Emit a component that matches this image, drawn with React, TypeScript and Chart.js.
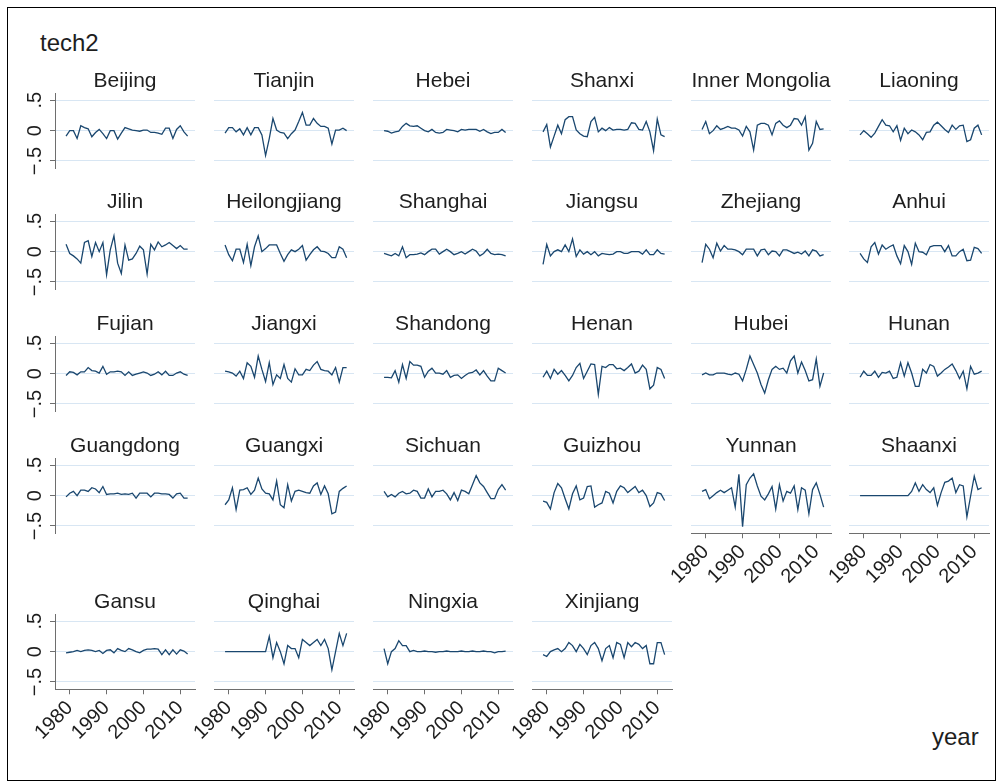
import React, { useEffect, useRef } from "react";
import { Chart, registerables } from "chart.js";
Chart.register(...registerables);

const years = [1979, 1980, 1981, 1982, 1983, 1984, 1985, 1986, 1987, 1988, 1989, 1990, 1991, 1992, 1993, 1994, 1995, 1996, 1997, 1998, 1999, 2000, 2001, 2002, 2003, 2004, 2005, 2006, 2007, 2008, 2009, 2010, 2011, 2012];
const xTicks = [1980, 1990, 2000, 2010];
const yTicks = [-0.5, 0, 0.5];
const yTickLabels = ["\u2212.5", "0", ".5"];

const beijing = [-0.09,0,0,-0.13,0.08,0.05,0.03,-0.1,-0.03,0.02,-0.05,-0.13,0,0,-0.14,-0.04,0.05,0.03,0.01,0,-0.01,0.01,0.01,-0.03,-0.03,-0.04,-0.06,0.04,0.04,-0.13,0.02,0.08,-0.02,-0.09];
const tianjin = [-0.04,0.05,0.05,-0.02,0.03,-0.07,0.05,-0.07,0.05,0.05,-0.07,-0.41,-0.13,0.2,0.01,-0.03,-0.04,-0.13,-0.05,0.01,0.15,0.3,0.09,0.09,0.2,0.12,0.07,0.07,0.04,-0.22,0.01,0.01,0.04,0.0];
const hebei = [0,-0.01,-0.04,-0.02,-0.01,0.07,0.12,0.08,0.07,0.08,0.04,0,-0.02,0.02,-0.03,-0.04,-0.03,0.02,0.01,0,-0.02,0.02,0.01,0.02,0.02,0.02,-0.01,0.02,-0.02,-0.05,-0.03,-0.03,0.02,-0.03];
const shanxi = [-0.02,0.1,-0.27,-0.09,0.09,-0.05,0.18,0.23,0.23,0.01,-0.05,-0.09,-0.1,0.15,0.22,-0.02,0.04,0,0.05,0.01,0.02,0.02,0.01,0.02,0.13,0.12,0.02,0.01,0.15,-0.02,-0.33,0.19,-0.07,-0.1];
const innerMongolia = [0.02,0.15,-0.05,0,0.08,0.02,0.04,0.07,0.04,0.04,0.01,-0.09,0.07,-0.02,-0.32,0.09,0.12,0.12,0.09,-0.07,0.12,0.16,0.09,0.05,0.09,0.2,0.19,0.09,0.23,-0.32,-0.21,0.15,0.02,0.03];
const liaoning = [-0.07,0,-0.05,-0.11,-0.04,0.07,0.18,0.09,0.08,-0.02,0.08,-0.16,0.04,-0.05,0.01,-0.02,-0.07,-0.15,-0.03,-0.02,0.09,0.14,0.08,0.02,-0.03,0.09,0.02,0.08,0.09,-0.18,-0.15,0.04,0.09,-0.07];
const jilin = [0.12,-0.03,-0.07,-0.12,-0.19,0.15,0.18,-0.08,0.15,0,0.15,-0.38,0.03,0.26,-0.19,-0.36,0.11,-0.14,-0.12,-0.03,0.09,0.03,-0.37,0.12,0.03,0.16,0.08,0.11,0.15,0.1,0.05,0.1,0.04,0.04];
const heilongjiang = [0.11,-0.05,-0.15,0.04,0.04,-0.18,0.12,-0.23,0.08,0.26,0,0.05,0.11,0.11,0.11,-0.03,-0.16,-0.05,0.03,0,0.04,0.1,-0.14,-0.05,0.03,0.08,0.01,0,-0.03,-0.1,-0.1,0.08,0.04,-0.1];
const shanghai = [-0.03,-0.05,-0.07,-0.03,-0.07,0.08,-0.1,-0.05,-0.05,-0.04,-0.02,-0.05,0,0.04,0.04,-0.04,0,0.04,0,-0.05,-0.03,0,-0.04,0,0.04,0.01,-0.07,-0.03,0.04,-0.03,-0.05,-0.04,-0.05,-0.07];
const jiangsu = [-0.21,0.12,-0.07,0,0.03,0,0.11,0,0.21,-0.08,0.03,-0.04,0,-0.05,0,-0.07,-0.03,-0.04,-0.05,-0.04,0,0,-0.03,-0.03,0,0,0,-0.04,0.03,-0.05,-0.05,0.03,-0.03,-0.04];
const zhejiang = [-0.18,0.12,0.04,-0.1,0.14,0.01,0.1,0.04,0.04,0.03,0,-0.05,0.04,0.04,0.04,-0.07,0.03,0.04,-0.05,0.01,0,-0.07,0.03,0.03,0,-0.03,-0.01,-0.04,0.01,-0.07,0.03,0.01,-0.07,-0.05];
const anhui = [-0.03,-0.12,-0.18,0.08,0.15,-0.04,0.11,0.04,0.08,0.11,-0.07,-0.2,0.1,0,-0.21,0.14,0,-0.01,-0.05,0.08,0.1,0.1,0.1,0,0.1,-0.07,-0.07,0,0.04,-0.15,-0.14,0.07,0.05,-0.03];
const fujian = [-0.03,0.03,0.02,-0.02,0.03,0.03,0.1,0.05,0.04,0.01,0.12,-0.01,0.03,0.03,0.04,0.03,-0.03,0.03,-0.03,-0.01,0.01,0.03,0.01,-0.03,-0.01,0.03,-0.02,0.04,-0.03,-0.03,0.01,0.03,-0.01,-0.03];
const jiangxi = [0.04,0.03,0.01,-0.04,0.04,-0.08,0.18,0.12,-0.06,0.29,0.07,-0.13,0.18,-0.18,-0.02,-0.08,0.15,-0.08,-0.14,0.08,-0.02,-0.02,0.07,0.05,0.14,0.2,0.07,0.05,0.04,-0.02,0.1,-0.14,0.1,0.1];
const shandong = [-0.06,-0.06,-0.07,0.05,-0.14,0.15,-0.08,0.2,0.14,0.14,0.12,-0.06,0.04,0.09,0.01,0.01,-0.01,0.05,-0.06,-0.03,-0.02,-0.08,-0.03,0.01,0.02,0.06,-0.02,0.05,-0.04,-0.12,-0.12,0.09,0.05,0.01];
const henan = [-0.06,0.04,-0.08,0.07,-0.01,0.05,-0.03,-0.12,-0.03,0.1,0.17,-0.08,0.04,0.16,0.15,-0.34,0.12,0.1,0.15,0.15,0.08,0.09,0.05,0.1,0.16,0.01,0.04,0.14,0.07,-0.25,-0.19,0.1,0.07,-0.08];
const hubei = [-0.02,0.01,-0.02,-0.02,0.01,0.01,0.01,-0.01,-0.02,0.01,-0.01,-0.12,0.07,0.29,0.15,0.01,-0.18,-0.32,-0.1,0.07,0.12,0.07,0.09,0.01,0.21,0.29,0.01,0.19,0.05,-0.12,-0.1,0.24,-0.21,0.01];
const hunan = [-0.06,0.04,-0.03,-0.03,0.04,-0.06,0.02,0.01,0.04,-0.08,-0.06,0.18,-0.04,0.18,0.01,-0.21,-0.21,0.07,0.01,0.15,0.12,-0.04,0.01,0.07,0.11,0.16,0.05,-0.08,0.04,-0.25,0.12,-0.01,0.01,0.04];
const guangdong = [-0.02,0.04,0.07,0,0.09,0.09,0.07,0.13,0.11,0.05,0.15,0.02,0.03,0.03,0.04,0.02,0.03,0.02,0.04,-0.04,0.04,0.04,0.04,-0.02,0.04,0.04,0.03,0.03,0.02,-0.04,0.03,0.04,-0.04,-0.04];
const guangxi = [-0.15,-0.07,0.13,-0.23,0.09,0.1,0.13,0.02,0.09,0.29,0.11,0.04,0.03,-0.07,0.24,-0.15,-0.2,0.18,-0.09,0.07,0.09,0.07,0.05,0.04,0.16,0.21,0.02,0.16,0.03,-0.3,-0.27,0.07,0.12,0.16];
const sichuan = [0.07,-0.02,0.02,-0.02,0.04,0.07,0.03,0.04,0.09,0.07,-0.04,-0.04,0.11,-0.02,0.07,0.07,0.09,0.03,-0.07,0.05,-0.08,0.09,0.07,0.03,0.18,0.33,0.21,0.15,0.05,-0.05,-0.05,0.1,0.18,0.09];
const guizhou = [-0.09,-0.11,-0.22,0.05,0.2,0.13,-0.05,-0.22,0.03,0.16,-0.07,-0.04,0.15,0.16,-0.19,-0.15,-0.12,0.07,0.04,-0.12,0.07,0.16,0.13,0.05,0.1,0.15,0.05,0.09,0,-0.18,-0.12,0.05,0.03,-0.08];
const yunnan = [0.07,0.1,-0.05,0,0.05,0.09,0.05,0.09,0.13,-0.19,0.35,-0.51,0.18,0.29,0.36,0.16,-0.01,-0.07,0.03,0.15,-0.22,0.18,-0.09,0.07,0.04,0.16,-0.23,0.13,0.09,-0.3,0.1,0.21,0.02,-0.19];
const shaanxi = [0,0,0,0,0,0,0,0,0,0,0,0,0,0,0.07,0.21,0.07,0.18,0.1,0.05,0.13,-0.16,0.05,0.22,0.24,0.29,0.05,0.18,0.16,-0.35,-0.01,0.32,0.1,0.13];
const gansu = [-0.02,-0.01,0,0.02,0,0.02,0.03,0.02,0,0.02,-0.03,0.02,0.03,-0.02,0.05,0.02,0,0.05,0.03,0,-0.02,0.02,0.04,0.04,0.05,0.04,-0.05,0.03,-0.05,0.03,-0.04,0.03,0.01,-0.04];
const qinghai = [0,0,0,0,0,0,0,0,0,0,0,0,0.25,-0.1,0.15,0,-0.2,0.1,0.05,0.05,-0.1,0.2,0.15,0.1,0.15,0.2,0.1,0.2,0.05,-0.3,0,0.3,0.1,0.3];
const ningxia = [0.05,-0.2,0,0.05,0.18,0.1,0.1,0,0.02,0,0,0.01,0,0,-0.01,0,0,0.01,0,0,0,0.01,0,0,0.01,0,0,0.01,0,0,-0.02,0,0,0.01];
const xinjiang = [-0.05,-0.08,0,0.03,0.05,0,0.05,0.15,0.1,0,0.12,0.05,-0.05,0.1,0.15,0.05,-0.15,0.05,0.1,-0.1,0.15,0.12,-0.1,0.15,0.08,0.15,0.12,0.05,0.1,-0.2,-0.2,0.15,0.15,-0.05];

const provinceNames = [
  "Beijing", "Tianjin", "Hebei", "Shanxi", "Inner Mongolia", "Liaoning",
  "Jilin", "Heilongjiang", "Shanghai", "Jiangsu", "Zhejiang", "Anhui",
  "Fujian", "Jiangxi", "Shandong", "Henan", "Hubei", "Hunan",
  "Guangdong", "Guangxi", "Sichuan", "Guizhou", "Yunnan", "Shaanxi",
  "Gansu", "Qinghai", "Ningxia", "Xinjiang",
];
const provinceSeries = [
  beijing, tianjin, hebei, shanxi, innerMongolia, liaoning,
  jilin, heilongjiang, shanghai, jiangsu, zhejiang, anhui,
  fujian, jiangxi, shandong, henan, hubei, hunan,
  guangdong, guangxi, sichuan, guizhou, yunnan, shaanxi,
  gansu, qinghai, ningxia, xinjiang,
];

const FONT = "'Liberation Sans', Arial, Helvetica, sans-serif";
const LINE_COLOR = "#1a476f";
const GRID_COLOR = "#d8e6f3";
const AXIS_COLOR = "#6e6e6e";
const TEXT_COLOR = "#1e1e1e";

// layout
const COL_X0 = 55.3;
const COL_PITCH = 158.8;
const ROW_ZERO = [130.7, 251.7, 374, 496, 651.5];
const PLOT_W = 140;
const Y_MIN = -0.62;
const Y_MAX = 0.62;
const PX_PER_UNIT = 60.7;
const PLOT_H = (Y_MAX - Y_MIN) * PX_PER_UNIT;
const AXIS_W = 55;
const RIGHT_PAD = 10;
const TOP_PAD = 40;
const XAXIS_H = 80;
const CANVAS_W = AXIS_W + PLOT_W + RIGHT_PAD;
const CANVAS_H = Math.ceil(TOP_PAD + PLOT_H + XAXIS_H);

const titlePlugin = {
  id: "panelTitle",
  afterDraw(chart: any, _args: any, opts: any) {
    const { ctx, chartArea } = chart;
    ctx.save();
    ctx.font = `21px ${FONT}`;
    ctx.fillStyle = TEXT_COLOR;
    ctx.textAlign = "center";
    ctx.textBaseline = "alphabetic";
    ctx.fillText(opts.text, (chartArea.left + chartArea.right) / 2, chartArea.top - 6.5);
    ctx.restore();
  },
};

function Panel(props: { name: string; values: number[]; col: number; row: number; showX: boolean; showY: boolean }) {
  const { name, values, col, row, showX, showY } = props;
  const ref = useRef<HTMLCanvasElement>(null);
  const plotLeft = COL_X0 + col * COL_PITCH;
  const plotTop = ROW_ZERO[row] - Y_MAX * PX_PER_UNIT;
  const left = plotLeft - AXIS_W;
  const top = plotTop - TOP_PAD;
  const bottomPad = CANVAS_H - TOP_PAD - PLOT_H;

  useEffect(() => {
    const chart = new Chart(ref.current as HTMLCanvasElement, {
      type: "line",
      data: {
        datasets: [
          {
            data: years.map((yr, i) => ({ x: yr, y: values[i] })),
            borderColor: LINE_COLOR,
            borderWidth: 1.3,
            pointRadius: 0,
            tension: 0,
            fill: false,
          },
        ],
      },
      options: {
        animation: false,
        responsive: false,
        devicePixelRatio: 1,
        events: [],
        layout: { padding: { top: TOP_PAD, left: 0, right: RIGHT_PAD, bottom: 0 } },
        plugins: {
          legend: { display: false },
          tooltip: { enabled: false },
          panelTitle: { text: name },
        } as any,
        scales: {
          x: {
            type: "linear",
            min: 1976,
            max: 2014,
            afterBuildTicks: (scale: any) => {
              scale.ticks = xTicks.map((v) => ({ value: v }));
            },
            afterFit: (scale: any) => {
              scale.height = bottomPad;
            },
            ticks: {
              display: showX,
              autoSkip: false,
              minRotation: 45,
              maxRotation: 45,
              padding: 2,
              color: TEXT_COLOR,
              font: { family: FONT, size: 20 },
              callback: (v: any) => String(v),
            },
            grid: {
              display: showX,
              drawOnChartArea: false,
              drawTicks: true,
              tickLength: 5,
              tickColor: AXIS_COLOR,
              color: AXIS_COLOR,
            },
            border: { display: showX, color: AXIS_COLOR, width: 1 },
          },
          y: {
            type: "linear",
            min: Y_MIN,
            max: Y_MAX,
            afterBuildTicks: (scale: any) => {
              scale.ticks = yTicks.map((v) => ({ value: v }));
            },
            afterFit: (scale: any) => {
              scale.width = AXIS_W;
            },
            ticks: {
              display: showY,
              minRotation: 90,
              maxRotation: 90,
              crossAlign: "center",
              padding: 0,
              color: TEXT_COLOR,
              font: { family: FONT, size: 20 },
              callback: (v: any) => {
                const idx = yTicks.indexOf(Number(v));
                return idx >= 0 ? yTickLabels[idx] : "";
              },
            },
            grid: {
              display: true,
              drawOnChartArea: true,
              drawTicks: showY,
              tickLength: 5,
              color: GRID_COLOR,
              tickColor: AXIS_COLOR,
              lineWidth: 1,
            },
            border: { display: showY, color: AXIS_COLOR, width: 1 },
          },
        },
      } as any,
      plugins: [titlePlugin],
    });
    return () => chart.destroy();
  }, []);

  return (
    <canvas
      ref={ref}
      width={CANVAS_W}
      height={CANVAS_H}
      style={{ position: "absolute", left, top, width: CANVAS_W, height: CANVAS_H }}
    />
  );
}

export default function App() {
  return (
    <div style={{ position: "absolute", left: 0, top: 0, width: 998, height: 783, background: "#fff", fontFamily: FONT }}>
      <div style={{ position: "absolute", left: 7, top: 7, width: 989, height: 774, border: "1px solid #000", boxSizing: "border-box" }} />
      <div style={{ position: "absolute", left: 40, top: 28, fontSize: 24, color: TEXT_COLOR, lineHeight: "30px" }}>tech2</div>
      <div style={{ position: "absolute", left: 932, top: 722, fontSize: 24, color: TEXT_COLOR, lineHeight: "30px" }}>year</div>
      {provinceNames.map((name, i) => {
        const row = Math.floor(i / 6);
        const col = i % 6;
        const showX = row === 4 || (row === 3 && col >= 4);
        const showY = col === 0;
        return (
          <Panel key={name} name={name} values={provinceSeries[i]} col={col} row={row} showX={showX} showY={showY} />
        );
      })}
    </div>
  );
}
